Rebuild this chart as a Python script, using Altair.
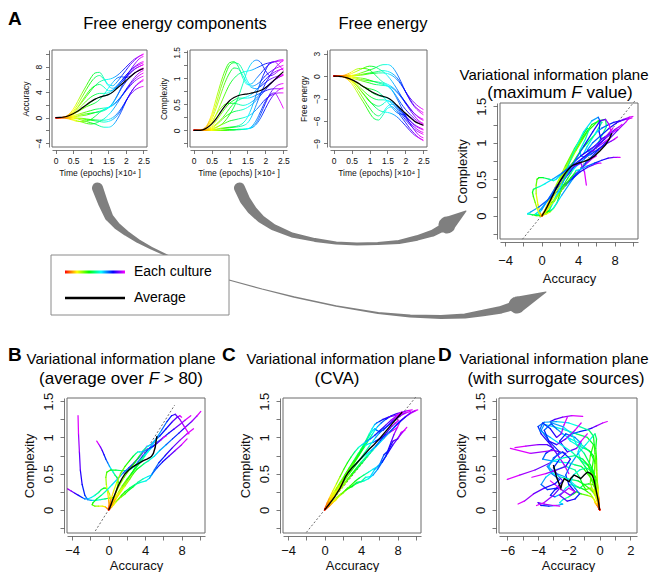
import altair as alt
import pandas as pd

FONT = "Liberation Sans"
RAINBOW = ["#ff0000", "#ffff00", "#00ff00", "#00ffff", "#0000ff", "#ff00ff"]
RAINBOW_T = [0, 0.5, 1.0, 1.5, 2.0, 2.5]
GREY = "#7f7f7f"
BOXC = "#6a6a6a"

# time grid (x 10^4 epochs)
T = [0, 0.125, 0.25, 0.375, 0.5, 0.625, 0.75, 0.875, 1.0, 1.125, 1.25,
     1.375, 1.5, 1.625, 1.75, 1.875, 2.0, 2.125, 2.25, 2.375, 2.5]

# ---------------- Panel A: accuracy / complexity of each culture ----------------
ACC = {
    "c01": [0, 0, 0.1, 0.5, 1.3, 2.5, 3.8, 5.0, 6.2, 7.0, 7.1, 6.2, 5.2, 5.0, 5.6, 6.5, 7.4, 8.3, 9.0, 9.6, 10.0],
    "c02": [0, 0, 0.1, 0.4, 1.0, 2.0, 3.2, 4.4, 5.5, 6.3, 6.6, 6.0, 5.0, 4.6, 5.0, 5.8, 6.6, 7.4, 8.0, 8.5, 8.8],
    "c03": [0, 0, 0.05, 0.3, 0.8, 1.6, 2.6, 3.6, 4.5, 5.0, 5.2, 4.8, 4.2, 4.3, 4.8, 5.5, 6.3, 7.0, 7.6, 8.0, 8.3],
    "c04": [0, 0, -0.05, -0.2, -0.4, -0.6, -0.6, -0.5, -0.3, 0.2, 0.8, 1.3, 1.6, 2.0, 2.6, 3.4, 4.3, 5.2, 6.0, 6.6, 7.0],
    "c05": [0, 0, 0, -0.05, -0.1, -0.2, -0.4, -0.6, -0.8, -1.0, -1.3, -1.5, -1.5, -1.2, -0.3, 1.0, 2.5, 3.8, 4.8, 5.5, 6.0],
    "c06": [0, 0, 0, 0, -0.05, -0.1, -0.2, -0.3, -0.4, -0.5, -0.6, -0.7, -0.6, -0.3, 0.3, 1.3, 2.6, 3.8, 4.8, 5.4, 5.8],
    "c07": [0, 0, 0.05, 0.2, 0.5, 0.9, 1.3, 1.7, 2.0, 2.3, 2.8, 3.6, 4.6, 5.5, 6.2, 6.4, 6.3, 6.5, 7.0, 7.5, 7.8],
    "c08": [0, 0, 0.05, 0.2, 0.5, 0.9, 1.4, 1.9, 2.4, 2.9, 3.2, 3.4, 3.6, 4.0, 4.7, 5.5, 6.3, 7.0, 7.6, 8.0, 8.3],
    "c09": [0, 0, 0, 0.05, 0.1, 0.2, 0.3, 0.4, 0.6, 0.8, 1.0, 1.2, 1.5, 2.2, 3.4, 4.8, 6.2, 7.4, 8.4, 9.2, 9.6],
    "c10": [0, 0, 0, 0, 0, -0.05, -0.1, -0.2, -0.3, -0.35, -0.4, -0.4, -0.3, 0, 0.6, 1.5, 2.6, 3.6, 4.3, 4.7, 4.9],
    "c11": [0, 0, 0.02, 0.1, 0.3, 0.5, 0.7, 0.9, 1.1, 1.3, 1.4, 1.5, 1.6, 1.9, 2.5, 3.3, 4.2, 5.0, 5.7, 6.2, 6.5],
    "c12": [0, 0, 0.1, 0.3, 0.8, 1.5, 2.4, 3.3, 4.2, 5.0, 5.6, 5.9, 6.0, 6.2, 6.6, 7.2, 7.9, 8.6, 9.2, 9.6, 9.9],
    "c13": [0, 0, 0, 0.05, 0.15, 0.3, 0.5, 0.6, 0.7, 0.8, 0.9, 1.1, 1.5, 2.3, 3.4, 4.6, 5.6, 6.4, 7.0, 7.4, 7.6],
    "c14": [0, 0, 0, -0.1, -0.3, -0.5, -0.7, -0.9, -1.0, -0.9, -0.6, -0.2, 0.4, 1.2, 2.2, 3.3, 4.4, 5.4, 6.3, 7.0, 7.4],
    "c15": [0, 0, 0.05, 0.2, 0.6, 1.2, 1.9, 2.6, 3.2, 3.6, 3.8, 3.8, 3.9, 4.3, 5.0, 5.8, 6.6, 7.3, 7.9, 8.3, 8.6],
}
CPX = {
    "c01": [0, 0, 0.02, 0.1, 0.3, 0.6, 0.9, 1.15, 1.3, 1.32, 1.22, 1.0, 0.88, 0.9, 1.0, 1.1, 1.2, 1.28, 1.32, 1.35, 1.36],
    "c02": [0, 0, 0.01, 0.08, 0.25, 0.5, 0.8, 1.05, 1.25, 1.3, 1.28, 1.15, 0.95, 0.85, 0.88, 0.95, 1.05, 1.12, 1.18, 1.22, 1.25],
    "c03": [0, 0, 0.01, 0.06, 0.2, 0.42, 0.68, 0.92, 1.1, 1.2, 1.18, 1.05, 0.9, 0.82, 0.8, 0.85, 0.92, 0.98, 1.02, 1.05, 1.08],
    "c04": [0, 0, 0.01, 0.05, 0.15, 0.3, 0.42, 0.5, 0.52, 0.52, 0.5, 0.48, 0.5, 0.55, 0.62, 0.72, 0.82, 0.9, 0.97, 1.02, 1.06],
    "c05": [0, 0, 0, 0, 0, 0, 0, 0, 0.01, 0.01, 0.02, 0.02, 0.03, 0.05, 0.12, 0.25, 0.42, 0.58, 0.7, 0.78, 0.82],
    "c06": [0, 0, 0, 0, 0, 0, 0, 0.01, 0.01, 0.01, 0.02, 0.02, 0.03, 0.06, 0.15, 0.32, 0.52, 0.7, 0.82, 0.88, 0.9],
    "c07": [0, 0, 0, 0.01, 0.02, 0.05, 0.1, 0.18, 0.3, 0.45, 0.65, 0.9, 1.15, 1.3, 1.35, 1.3, 1.15, 1.05, 1.08, 1.15, 1.2],
    "c08": [0, 0, 0, 0.02, 0.06, 0.12, 0.2, 0.3, 0.42, 0.52, 0.58, 0.62, 0.65, 0.7, 0.78, 0.88, 0.98, 1.06, 1.12, 1.16, 1.18],
    "c09": [0, 0, 0, 0, 0.01, 0.02, 0.03, 0.04, 0.05, 0.06, 0.07, 0.09, 0.14, 0.28, 0.5, 0.72, 0.9, 1.05, 1.18, 1.28, 1.34],
    "c10": [0, 0, 0, 0, 0, 0, 0, 0, 0.01, 0.01, 0.01, 0.02, 0.03, 0.08, 0.2, 0.38, 0.56, 0.68, 0.72, 0.6, 0.42],
    "c11": [0, 0, 0, 0.01, 0.03, 0.06, 0.1, 0.14, 0.18, 0.2, 0.22, 0.24, 0.27, 0.32, 0.4, 0.5, 0.6, 0.66, 0.7, 0.72, 0.72],
    "c12": [0, 0, 0.01, 0.05, 0.14, 0.3, 0.5, 0.7, 0.88, 1.0, 1.08, 1.12, 1.14, 1.16, 1.2, 1.24, 1.28, 1.3, 1.32, 1.33, 1.34],
    "c13": [0, 0, 0, 0, 0.01, 0.02, 0.04, 0.05, 0.06, 0.07, 0.09, 0.14, 0.25, 0.45, 0.7, 0.95, 1.15, 1.3, 1.32, 1.25, 1.15],
    "c14": [0, 0, 0, 0.01, 0.04, 0.1, 0.18, 0.26, 0.32, 0.36, 0.38, 0.4, 0.44, 0.5, 0.58, 0.68, 0.78, 0.88, 0.96, 1.02, 1.06],
    "c15": [0, 0, 0, 0.02, 0.08, 0.18, 0.3, 0.42, 0.52, 0.58, 0.62, 0.62, 0.62, 0.64, 0.68, 0.72, 0.76, 0.79, 0.8, 0.8, 0.8],
}
ACC_MEAN = [0, 0.03, 0.1, 0.3, 0.6, 1.0, 1.5, 2.0, 2.5, 2.9, 3.2, 3.4, 3.6, 4.0, 4.6, 5.2, 5.8, 6.4, 7.0, 7.4, 7.7]
CPX_MEAN = [0, 0, 0.01, 0.05, 0.12, 0.22, 0.35, 0.47, 0.57, 0.63, 0.67, 0.69, 0.7, 0.72, 0.74, 0.77, 0.82, 0.89, 0.97, 1.05, 1.13]

# ---------------- Panel B: average over F > 80 ----------------
B_ACC = {
    "b01": [0, 0.05, 0.15, 0.3, 0.5, 0.6, 0.6, 0.5, 0.3, 0, -0.4, -0.9, -1.4, -1.9, -2.3, -2.6, -2.9, -3.1, -3.2, -3.3, -3.35],
    "b02": [0, 0.05, 0.1, 0.15, 0.2, 0.1, -0.1, -0.3, -0.5, -0.8, -1.1, -1.5, -1.9, -2.3, -2.6, -2.9, -3.3, -3.7, -4.1, -4.5, -4.9],
    "b03": [0, 0.1, 0.25, 0.45, 0.7, 0.9, 1.0, 1.05, 1.0, 0.9, 0.7, 0.5, 0.3, 0.1, -0.1, -0.3, -0.5, -0.7, -0.9, -1.1, -1.3],
    "b04": [0, 0.02, 0.05, 0, -0.1, -0.25, -0.3, -0.2, 0.2, 0.8, 1.5, 2.0, 2.4, 2.8, 3.2, 3.6, 4.0, 4.4, 4.8, 5.1, 5.3],
    "b05": [0, -0.05, -0.15, -0.35, -0.7, -1.1, -1.5, -1.8, -1.7, -1.3, -0.8, -0.2, 0.4, 1.0, 1.6, 2.2, 2.8, 3.3, 3.7, 4.0, 4.2],
    "b06": [0, 0.1, 0.3, 0.6, 1.0, 1.5, 2.0, 2.5, 2.9, 3.3, 3.6, 3.9, 4.3, 4.8, 5.4, 6.0, 6.6, 7.2, 7.8, 8.4, 9.0],
    "b07": [0, 0.1, 0.25, 0.5, 0.8, 1.2, 1.7, 2.3, 2.9, 3.4, 3.8, 4.1, 4.3, 4.6, 5.0, 5.6, 6.3, 7.0, 7.5, 7.8, 8.0],
    "b08": [0, 0.1, 0.2, 0.4, 0.7, 1.0, 1.4, 1.8, 2.2, 2.7, 3.2, 3.8, 4.3, 4.7, 5.0, 5.5, 6.2, 7.0, 7.8, 8.6, 9.3],
    "b09": [0, 0.15, 0.4, 0.8, 1.3, 1.8, 2.3, 2.7, 3.1, 3.5, 3.9, 4.4, 5.0, 5.6, 6.3, 7.0, 7.7, 8.4, 9.1, 9.7, 10.1],
    "b10": [0, 0.1, 0.2, 0.4, 0.7, 1.1, 1.5, 2.0, 2.5, 3.0, 3.5, 4.0, 4.6, 5.2, 5.8, 6.4, 6.9, 7.3, 7.8, 8.3, 8.8],
    "b11": [0, 0.05, 0.15, 0.3, 0.55, 0.9, 1.3, 1.8, 2.3, 2.7, 3.0, 3.2, 3.4, 3.7, 4.1, 4.5, 4.9, 5.3, 5.7, 6.0, 6.3],
    "b12": [0, 0.1, 0.2, 0.35, 0.55, 0.8, 1.1, 1.4, 1.8, 2.3, 2.9, 3.5, 4.1, 4.5, 4.8, 5.3, 5.9, 6.6, 7.3, 8.0, 8.6],
}
B_CPX = {
    "b01": [0, 0.01, 0.03, 0.06, 0.1, 0.14, 0.16, 0.17, 0.17, 0.16, 0.15, 0.14, 0.13, 0.13, 0.14, 0.2, 0.35, 0.55, 0.8, 1.05, 1.3],
    "b02": [0, 0.02, 0.05, 0.1, 0.16, 0.22, 0.27, 0.3, 0.3, 0.28, 0.24, 0.2, 0.17, 0.15, 0.15, 0.17, 0.2, 0.23, 0.26, 0.29, 0.31],
    "b03": [0, 0.02, 0.06, 0.12, 0.2, 0.28, 0.34, 0.38, 0.42, 0.45, 0.48, 0.52, 0.56, 0.6, 0.65, 0.7, 0.76, 0.82, 0.87, 0.91, 0.95],
    "b04": [0, 0.02, 0.06, 0.14, 0.24, 0.35, 0.45, 0.52, 0.55, 0.55, 0.54, 0.54, 0.56, 0.6, 0.66, 0.72, 0.78, 0.84, 0.9, 0.95, 1.0],
    "b05": [0, 0.01, 0.02, 0.04, 0.05, 0.05, 0.05, 0.07, 0.1, 0.15, 0.2, 0.27, 0.35, 0.43, 0.51, 0.58, 0.65, 0.72, 0.78, 0.84, 0.88],
    "b06": [0, 0.02, 0.06, 0.12, 0.2, 0.3, 0.4, 0.5, 0.58, 0.64, 0.7, 0.75, 0.8, 0.87, 0.94, 1.0, 1.06, 1.12, 1.18, 1.24, 1.3],
    "b07": [0, 0.03, 0.08, 0.15, 0.24, 0.34, 0.45, 0.56, 0.66, 0.75, 0.82, 0.86, 0.88, 0.9, 0.95, 1.02, 1.12, 1.22, 1.28, 1.3, 1.28],
    "b08": [0, 0.01, 0.03, 0.06, 0.1, 0.14, 0.18, 0.22, 0.27, 0.32, 0.38, 0.43, 0.46, 0.48, 0.55, 0.65, 0.75, 0.86, 0.96, 1.05, 1.12],
    "b09": [0, 0.03, 0.08, 0.15, 0.24, 0.33, 0.42, 0.5, 0.56, 0.6, 0.64, 0.68, 0.74, 0.82, 0.9, 0.98, 1.06, 1.14, 1.22, 1.3, 1.36],
    "b10": [0, 0.02, 0.05, 0.1, 0.17, 0.25, 0.33, 0.42, 0.5, 0.58, 0.66, 0.75, 0.86, 0.98, 1.1, 1.22, 1.3, 1.32, 1.25, 1.15, 1.05],
    "b11": [0, 0.03, 0.08, 0.16, 0.26, 0.38, 0.5, 0.6, 0.68, 0.74, 0.78, 0.8, 0.8, 0.8, 0.82, 0.85, 0.88, 0.92, 0.96, 1.0, 1.02],
    "b12": [0, 0.01, 0.02, 0.04, 0.07, 0.11, 0.15, 0.2, 0.25, 0.3, 0.35, 0.38, 0.4, 0.44, 0.5, 0.58, 0.66, 0.74, 0.82, 0.9, 0.98],
}
B_ACC_MEAN = [0, 0.1, 0.25, 0.45, 0.7, 0.95, 1.2, 1.5, 1.8, 2.2, 2.6, 3.0, 3.4, 3.8, 4.2, 4.5, 4.7, 4.9, 5.1, 5.2, 5.3]
B_CPX_MEAN = [0, 0.02, 0.07, 0.14, 0.22, 0.3, 0.37, 0.44, 0.5, 0.55, 0.59, 0.62, 0.65, 0.68, 0.7, 0.72, 0.74, 0.78, 0.86, 0.95, 1.02]

# ---------------- Panel C: CVA ----------------
V_ACC = {
    "v01": [0, 0.2, 0.5, 0.9, 1.4, 2.0, 2.6, 3.2, 3.8, 4.3, 4.8, 5.2, 5.5, 5.8, 6.2, 6.7, 7.3, 7.9, 8.5, 9.1, 9.6],
    "v02": [0, 0.15, 0.4, 0.75, 1.2, 1.7, 2.3, 2.9, 3.5, 4.0, 4.5, 4.9, 5.2, 5.5, 5.7, 6.0, 6.4, 7.0, 7.6, 8.2, 8.8],
    "v03": [0, 0.2, 0.45, 0.8, 1.2, 1.6, 2.0, 2.5, 3.0, 3.5, 4.0, 4.5, 5.0, 5.5, 6.0, 6.5, 7.0, 7.5, 8.0, 8.4, 8.8],
    "v04": [0, 0.1, 0.3, 0.6, 1.0, 1.5, 2.0, 2.5, 3.0, 3.5, 4.0, 4.6, 5.2, 5.8, 6.4, 7.0, 7.6, 8.2, 8.8, 9.4, 10.0],
    "v05": [0, 0.15, 0.35, 0.6, 0.9, 1.3, 1.7, 2.2, 2.7, 3.2, 3.7, 4.2, 4.6, 5.0, 5.3, 5.6, 6.0, 6.5, 7.0, 7.5, 8.0],
    "v06": [0, 0.2, 0.5, 0.9, 1.3, 1.8, 2.3, 2.8, 3.3, 3.8, 4.3, 4.8, 5.3, 5.8, 6.3, 6.7, 7.0, 7.3, 7.6, 7.9, 8.2],
    "v07": [0, 0.2, 0.5, 0.9, 1.4, 2.0, 2.6, 3.2, 3.8, 4.3, 4.7, 5.0, 5.3, 5.5, 5.7, 6.0, 6.4, 6.9, 7.5, 8.1, 8.6],
    "v08": [0, 0.2, 0.5, 0.9, 1.4, 1.9, 2.4, 2.9, 3.5, 4.1, 4.7, 5.3, 5.9, 6.5, 7.1, 7.7, 8.3, 8.9, 9.4, 9.9, 10.2],
    "v09": [0, 0.1, 0.3, 0.6, 0.9, 1.3, 1.8, 2.3, 2.8, 3.3, 3.8, 4.3, 4.8, 5.3, 5.8, 6.3, 6.9, 7.5, 8.1, 8.6, 9.0],
    "v10": [0, 0.1, 0.3, 0.55, 0.9, 1.3, 1.7, 2.1, 2.5, 2.9, 3.3, 3.7, 4.1, 4.5, 5.0, 5.5, 6.1, 6.7, 7.3, 7.9, 8.4],
    "v11": [0, 0.15, 0.4, 0.7, 1.1, 1.6, 2.1, 2.7, 3.3, 3.9, 4.4, 4.9, 5.3, 5.6, 6.0, 6.5, 7.1, 7.7, 8.3, 8.9, 9.4],
    "v12": [0, 0.1, 0.25, 0.5, 0.8, 1.2, 1.6, 2.1, 2.6, 3.1, 3.6, 4.1, 4.6, 5.1, 5.6, 6.1, 6.6, 7.0, 7.4, 7.8, 8.1],
}
V_CPX = {
    "v01": [0, 0.04, 0.1, 0.18, 0.28, 0.4, 0.52, 0.64, 0.76, 0.86, 0.96, 1.04, 1.1, 1.15, 1.2, 1.25, 1.3, 1.33, 1.35, 1.37, 1.38],
    "v02": [0, 0.03, 0.09, 0.16, 0.25, 0.36, 0.48, 0.6, 0.72, 0.84, 0.95, 1.05, 1.12, 1.18, 1.2, 1.22, 1.25, 1.28, 1.3, 1.32, 1.34],
    "v03": [0, 0.02, 0.05, 0.1, 0.13, 0.2, 0.23, 0.3, 0.32, 0.38, 0.39, 0.45, 0.46, 0.56, 0.62, 0.76, 0.82, 0.95, 0.98, 1.07, 1.1],
    "v04": [0, 0.02, 0.06, 0.11, 0.18, 0.26, 0.34, 0.42, 0.5, 0.58, 0.66, 0.74, 0.82, 0.9, 0.98, 1.06, 1.14, 1.22, 1.28, 1.33, 1.37],
    "v05": [0, 0.04, 0.09, 0.15, 0.22, 0.3, 0.38, 0.48, 0.58, 0.68, 0.78, 0.86, 0.9, 0.92, 0.93, 0.95, 0.98, 1.02, 1.06, 1.1, 1.14],
    "v06": [0, 0.02, 0.05, 0.1, 0.15, 0.21, 0.27, 0.33, 0.39, 0.44, 0.48, 0.52, 0.56, 0.6, 0.66, 0.74, 0.84, 0.94, 1.04, 1.12, 1.2],
    "v07": [0, 0.05, 0.12, 0.2, 0.3, 0.42, 0.54, 0.66, 0.78, 0.88, 0.98, 1.05, 1.1, 1.12, 1.1, 1.08, 1.1, 1.16, 1.24, 1.3, 1.34],
    "v08": [0, 0.03, 0.08, 0.15, 0.23, 0.31, 0.39, 0.47, 0.56, 0.65, 0.74, 0.83, 0.91, 0.99, 1.07, 1.15, 1.22, 1.29, 1.34, 1.37, 1.38],
    "v09": [0, 0.01, 0.04, 0.08, 0.12, 0.17, 0.22, 0.27, 0.31, 0.35, 0.38, 0.4, 0.43, 0.48, 0.56, 0.66, 0.78, 0.9, 1.0, 1.08, 1.14],
    "v10": [0, 0.04, 0.1, 0.17, 0.26, 0.36, 0.46, 0.56, 0.65, 0.73, 0.8, 0.86, 0.9, 0.94, 0.98, 1.03, 1.1, 1.17, 1.24, 1.3, 1.35],
    "v11": [0, 0.03, 0.08, 0.14, 0.21, 0.3, 0.39, 0.5, 0.6, 0.7, 0.79, 0.88, 0.95, 1.0, 1.06, 1.12, 1.18, 1.24, 1.3, 1.34, 1.36],
    "v12": [0, 0.02, 0.06, 0.12, 0.19, 0.27, 0.35, 0.44, 0.52, 0.6, 0.66, 0.72, 0.77, 0.82, 0.88, 0.96, 1.04, 1.1, 1.16, 1.2, 1.24],
}
V_ACC_MEAN = [0, 0.2, 0.45, 0.75, 1.05, 1.35, 1.7, 2.0, 2.3, 2.6, 3.0, 3.4, 3.9, 4.4, 4.9, 5.4, 6.0, 6.6, 7.2, 7.8, 8.5]
V_CPX_MEAN = [0, 0.03, 0.07, 0.12, 0.17, 0.23, 0.3, 0.38, 0.46, 0.52, 0.58, 0.63, 0.7, 0.77, 0.84, 0.9, 0.98, 1.07, 1.16, 1.25, 1.35]

# ---------------- Panel D: surrogate sources ----------------
D_ACC = {
    "d01": [0, -0.1, -0.15, -0.2, -0.3, -0.5, -0.7, -0.6, -0.4, -0.8, -1.5, -2.2, -3.0, -3.6, -3.8, -3.3, -2.6, -3.2, -4.2, -5.2, -6.0],
    "d02": [0, -0.05, -0.1, -0.2, -0.15, -0.3, -0.5, -0.8, -1.0, -1.2, -1.6, -2.0, -2.6, -3.2, -3.7, -3.5, -3.0, -3.4, -4.0, -4.8, -5.5],
    "d03": [0, -0.05, -0.1, -0.05, -0.1, -0.2, -0.3, -0.5, -0.4, -0.6, -0.9, -1.3, -1.9, -2.4, -2.8, -3.1, -3.2, -2.9, -2.4, -1.8, -1.1],
    "d04": [0, -0.05, -0.1, -0.15, -0.2, -0.3, -0.35, -0.3, -0.4, -0.7, -1.1, -1.5, -1.9, -2.1, -1.8, -1.3, -0.9, -0.5, -0.2, 0.2, 0.5],
    "d05": [0, -0.1, -0.2, -0.3, -0.35, -0.5, -0.8, -1.2, -1.5, -1.7, -2.0, -2.4, -2.6, -2.4, -2.8, -3.3, -3.8, -4.0, -3.6, -3.0, -2.6],
    "d06": [0, -0.02, -0.05, -0.1, -0.15, -0.2, -0.25, -0.3, -0.35, -0.4, -0.7, -1.3, -2.0, -2.8, -3.6, -4.0, -3.8, -3.2, -2.7, -2.3, -2.0],
    "d07": [0, -0.05, -0.1, -0.2, -0.3, -0.35, -0.3, -0.45, -0.7, -1.0, -1.3, -1.6, -1.9, -2.3, -2.8, -3.0, -2.6, -2.2, -3.0, -4.5, -5.8],
    "d08": [0, -0.05, -0.1, -0.15, -0.25, -0.4, -0.6, -0.9, -1.1, -1.3, -1.6, -2.2, -2.9, -3.5, -3.8, -3.4, -2.8, -2.4, -2.9, -3.4, -3.0],
    "d09": [0, -0.02, -0.05, -0.1, -0.12, -0.15, -0.2, -0.25, -0.3, -0.45, -0.8, -1.2, -1.4, -1.2, -1.6, -2.2, -2.6, -2.1, -1.5, -1.2, -0.8],
    "d10": [0, -0.05, -0.1, -0.2, -0.3, -0.45, -0.6, -0.8, -1.0, -1.2, -1.5, -1.9, -2.2, -2.5, -2.9, -3.2, -2.9, -2.5, -3.0, -3.6, -4.1],
    "d11": [0, -0.02, -0.05, -0.08, -0.1, -0.15, -0.18, -0.2, -0.25, -0.2, -0.3, -0.5, -0.9, -1.4, -1.9, -2.2, -2.0, -1.6, -1.9, -2.5, -3.2],
    "d12": [0, -0.03, -0.08, -0.12, -0.18, -0.25, -0.35, -0.5, -0.7, -0.95, -1.3, -1.8, -2.5, -3.2, -3.9, -3.7, -3.2, -2.8, -2.5, -2.3, -2.1],
    "d13": [0, -0.04, -0.1, -0.2, -0.35, -0.5, -0.6, -0.55, -0.75, -1.1, -1.6, -2.3, -3.0, -3.4, -3.1, -2.6, -2.9, -3.6, -4.3, -4.9, -5.3],
    "d14": [0, -0.03, -0.06, -0.1, -0.15, -0.22, -0.3, -0.4, -0.35, -0.6, -1.0, -1.5, -1.8, -2.4, -3.1, -3.6, -3.3, -2.8, -2.2, -1.6, -1.2],
    "d15": [0, -0.05, -0.1, -0.12, -0.2, -0.3, -0.45, -0.7, -1.0, -1.4, -1.9, -2.5, -3.0, -3.3, -3.0, -2.4, -1.9, -2.2, -2.8, -3.5, -4.4],
    "d16": [0, -0.02, -0.04, -0.06, -0.08, -0.1, -0.15, -0.25, -0.4, -0.6, -0.9, -1.3, -1.7, -1.9, -1.6, -1.3, -1.6, -2.1, -2.6, -2.0, -1.6],
}
D_CPX = {
    "d01": [0, 0.1, 0.2, 0.3, 0.4, 0.5, 0.6, 0.75, 0.9, 1.0, 1.05, 1.1, 1.15, 1.18, 1.1, 0.95, 0.8, 0.65, 0.55, 0.48, 0.42],
    "d02": [0, 0.05, 0.12, 0.2, 0.28, 0.35, 0.42, 0.5, 0.56, 0.6, 0.62, 0.65, 0.66, 0.68, 0.7, 0.78, 0.85, 0.9, 0.9, 0.88, 0.86],
    "d03": [0, 0.05, 0.1, 0.16, 0.22, 0.3, 0.4, 0.55, 0.7, 0.8, 0.85, 0.92, 0.98, 1.05, 1.12, 1.18, 1.22, 1.25, 1.28, 1.3, 1.29],
    "d04": [0, 0.05, 0.12, 0.2, 0.3, 0.4, 0.52, 0.64, 0.75, 0.82, 0.86, 0.9, 0.95, 1.0, 1.05, 1.08, 1.1, 1.13, 1.16, 1.2, 1.22],
    "d05": [0, 0.04, 0.07, 0.1, 0.14, 0.18, 0.2, 0.22, 0.25, 0.22, 0.18, 0.14, 0.1, 0.08, 0.06, 0.05, 0.06, 0.1, 0.08, 0.06, 0.05],
    "d06": [0, 0.06, 0.14, 0.24, 0.36, 0.5, 0.64, 0.78, 0.9, 1.02, 1.1, 1.15, 1.2, 1.22, 1.21, 1.15, 1.05, 0.9, 0.75, 0.62, 0.5],
    "d07": [0, 0.04, 0.09, 0.15, 0.22, 0.28, 0.32, 0.35, 0.36, 0.35, 0.3, 0.34, 0.4, 0.46, 0.5, 0.58, 0.7, 0.78, 0.82, 0.78, 0.85],
    "d08": [0, 0.04, 0.1, 0.16, 0.2, 0.26, 0.3, 0.28, 0.35, 0.45, 0.55, 0.6, 0.55, 0.45, 0.35, 0.28, 0.3, 0.4, 0.52, 0.6, 0.68],
    "d09": [0, 0.03, 0.06, 0.1, 0.14, 0.2, 0.28, 0.36, 0.45, 0.55, 0.62, 0.68, 0.8, 0.92, 1.0, 1.05, 0.95, 0.8, 0.85, 0.95, 1.05],
    "d10": [0, 0.02, 0.05, 0.08, 0.12, 0.17, 0.22, 0.25, 0.28, 0.3, 0.32, 0.35, 0.3, 0.22, 0.18, 0.2, 0.28, 0.32, 0.2, 0.1, 0.06],
    "d11": [0, 0.05, 0.1, 0.18, 0.28, 0.4, 0.55, 0.7, 0.85, 0.98, 1.05, 1.0, 0.9, 0.78, 0.62, 0.48, 0.35, 0.25, 0.2, 0.28, 0.4],
    "d12": [0, 0.03, 0.07, 0.12, 0.18, 0.25, 0.32, 0.4, 0.5, 0.6, 0.7, 0.8, 0.9, 1.0, 1.1, 1.2, 1.12, 1.0, 1.05, 1.18, 1.28],
    "d13": [0, 0.04, 0.1, 0.18, 0.25, 0.3, 0.38, 0.5, 0.62, 0.7, 0.75, 0.72, 0.68, 0.6, 0.5, 0.42, 0.36, 0.3, 0.22, 0.12, 0.08],
    "d14": [0, 0.02, 0.05, 0.09, 0.15, 0.22, 0.3, 0.38, 0.5, 0.62, 0.78, 0.9, 1.05, 1.15, 1.2, 1.1, 0.95, 0.9, 0.98, 1.1, 1.2],
    "d15": [0, 0.03, 0.06, 0.1, 0.14, 0.2, 0.25, 0.3, 0.35, 0.4, 0.42, 0.45, 0.5, 0.6, 0.72, 0.8, 0.7, 0.6, 0.55, 0.5, 0.45],
    "d16": [0, 0.04, 0.09, 0.15, 0.22, 0.3, 0.38, 0.45, 0.5, 0.55, 0.58, 0.55, 0.48, 0.38, 0.3, 0.22, 0.15, 0.12, 0.2, 0.3, 0.25],
}
D_ACC_MEAN = [0, -0.05, -0.12, -0.2, -0.26, -0.35, -0.48, -0.65, -0.8, -1.0, -1.23, -1.45, -1.66, -1.85, -1.98, -2.15, -2.3, -2.45, -2.52, -2.8, -3.0]
D_CPX_MEAN = [0, 0.08, 0.16, 0.24, 0.3, 0.4, 0.48, 0.51, 0.52, 0.48, 0.43, 0.46, 0.48, 0.44, 0.39, 0.41, 0.43, 0.36, 0.3, 0.45, 0.62]

# dashed reference lines (slope, accuracy range)
DIAG_A = (0.154, -2.1, 10.2)
DIAG_B = (0.2, -1.46, 7.24)
DIAG_C = (0.156, -2.0, 10.0)

# ---------------- decorations (page pixel coords) ----------------
ORIG = {"S1": (52, 50), "S3": (330, 50), "BIG": (500, 103), "PB": (67, 398), "PC": (283, 398), "PD": (499, 398)}
ARROW1 = [(97.5, 188, 11), (103, 203, 10), (109, 217, 8.5), (117, 226, 7), (126, 233, 5.5), (138, 241, 4),
          (151, 248, 3), (168, 256, 2), (200, 268, 1.5), (229, 280, 1.2), (262, 289, 1.2), (294, 297, 1.3),
          (336, 306, 1.6), (378, 313, 2.2), (410, 316, 3), (441, 317, 4), (465, 316, 5), (483, 313, 6.5),
          (500, 310, 7.5), (513, 306, 8.5), (517, 305, 17), (546, 292, 0)]
ARROW2 = [(239.5, 188, 11), (245, 200, 10.5), (252, 210, 9.5), (261, 219, 8), (273, 227, 6.5), (292, 235, 5),
          (315, 240, 3.8), (336, 243, 3), (357, 244, 2.8), (378, 243.5, 3.2), (399, 242, 4), (417, 238, 5.5),
          (433, 233, 7), (444, 227, 8), (447, 225, 17), (466, 211, 0)]
LEGEND_BOX = (51, 255, 229, 315)
LEGEND_ROWS = [("Each culture", 272), ("Average", 298)]

# ---------------- helpers ----------------
ONE = pd.DataFrame({"z": [0]})
W = {"(": .333, ")": .333, " ": .278, "a": .556, "e": .556, "g": .556, "m": .833, "o": .556, "r": .333,
     "u": .556, "v": .5, "x": .5, "i": .222, "l": .222, ">": .584, "8": .556, "0": .556, "F": .611}


def tw(s, size):
    return sum(W.get(ch, .556) for ch in s) * size


def txt(s, x, y, size, align="center", weight="normal", style="normal", font=FONT, baseline="alphabetic"):
    return alt.Chart(ONE).mark_text(text=s, align=align, baseline=baseline, fontSize=size, fontWeight=weight,
                                    fontStyle=style, font=font, color="black").encode(
        x=alt.value(x), y=alt.value(y))


def ptxt(key, s, px, py, size, **kw):
    ox, oy = ORIG[key]
    return txt(s, px - ox, py - oy, size, **kw)


def italic_line(key, before, after, cx, base, size):
    ox, oy = ORIG[key]
    sp, f = tw(" ", size), tw("F", size)
    total = tw(before, size) + sp + f + sp + tw(after, size)
    x0 = cx - total / 2
    xf = x0 + tw(before, size) + sp
    return [txt(before, x0 - ox, base - oy, size, align="left"),
            txt("F", xf - ox, base - oy, size, align="left", style="italic"),
            txt(after, xf + f + sp - ox, base - oy, size, align="left")]


def box():
    return alt.Chart(ONE).mark_rect(filled=False, stroke=BOXC, strokeWidth=1).encode(
        x=alt.value(0), x2=alt.value("width"), y=alt.value(0), y2=alt.value("height"))


def axis(title, values, every=None, lab=13, tit=13, y=False, offset=3, tick=5, lpad=3, tpad=4):
    kw = dict(title=title, values=values, format="~g", grid=False, offset=offset, tickSize=tick,
              labelFont=FONT, titleFont=FONT, labelFontSize=lab, titleFontSize=tit, titleFontWeight="normal",
              labelColor="#111", titleColor="#111", domainColor="#555", tickColor="#555",
              domainWidth=0.8, tickWidth=0.8, labelPadding=lpad, titlePadding=tpad,
              labelOverlap=False, labelFlush=False, labelBound=False)
    if every:
        kw["labelExpr"] = f"abs(datum.value/{every} - round(datum.value/{every})) < 0.000001 ? datum.label : ''"
    if y:
        kw.update(labelAngle=-90, labelAlign="center", labelBaseline="bottom")
    return alt.Axis(**kw)


def long_frame(acc, cpx):
    rows = []
    for cid in acc:
        for k, t in enumerate(T):
            rows.append(dict(culture=cid, k=k, t=t, A=acc[cid][k], C=cpx[cid][k]))
    return pd.DataFrame(rows)


def seg_frame(acc, cpx):
    rows = []
    for cid in acc:
        a, c = acc[cid], cpx[cid]
        for k in range(len(T) - 1):
            rows.append(dict(culture=cid, k=k, A=a[k], C=c[k], A2=a[k + 1], C2=c[k + 1], tm=(T[k] + T[k + 1]) / 2))
    return pd.DataFrame(rows)


def mean_frame(a, c):
    return pd.DataFrame(dict(k=list(range(len(T))), t=T, A=a, C=c))


def diag_frame(d):
    s, a0, a1 = d
    return pd.DataFrame(dict(A=[a0, a1], C=[s * a0, s * a1]))


COLOR_SCALE = alt.Scale(domain=RAINBOW_T, range=RAINBOW, interpolate="rgb")
GRAD = alt.LinearGradient(gradient="linear", x1=0, x2=1, y1=0, y2=0,
                          stops=[alt.GradientStop(color=c, offset=o / 2.5) for c, o in zip(RAINBOW, RAINBOW_T)])

DF_A = long_frame(ACC, CPX)
DF_A_MEAN = mean_frame(ACC_MEAN, CPX_MEAN)

CPX_TICKS = [-0.25, 0, 0.25, 0.5, 0.75, 1, 1.25, 1.5]
CPX_DOM = [-0.32, 1.545]


def time_panel(field, ydom, yvals, yevery, ytitle, w, extra=()):
    xs = alt.Scale(domain=[-0.1, 2.6], nice=False, zero=False)
    ys = alt.Scale(domain=ydom, nice=False, zero=False)
    xa = axis("Time (epochs) [×10⁴ ]", [0, 0.5, 1, 1.5, 2, 2.5], None, lab=8.5, tit=8.5, offset=3, tick=3.5, lpad=3, tpad=3)
    ya = axis(ytitle, yvals, yevery, lab=8.5, tit=8.5, y=True, offset=3, tick=3.5, lpad=2, tpad=4)
    lines = alt.Chart(DF_A).transform_calculate(F="datum.C - datum.A").mark_line(
        stroke=GRAD, strokeWidth=0.9, interpolate="monotone").encode(
        x=alt.X("t:Q", scale=xs, axis=xa), y=alt.Y(f"{field}:Q", scale=ys, axis=ya), detail="culture:N")
    avg = alt.Chart(DF_A_MEAN).transform_calculate(F="datum.C - datum.A").mark_line(
        color="black", strokeWidth=1.2, interpolate="monotone").encode(
        x=alt.X("t:Q", scale=xs, axis=xa), y=alt.Y(f"{field}:Q", scale=ys, axis=ya))
    return alt.layer(lines, avg, box(), *extra).properties(width=w, height=97)


def plane_panel(acc, cpx, am, cm, xdom, xvals, xevery, diag, w, h, lpad, tpad, extra=()):
    xs = alt.Scale(domain=xdom, nice=False, zero=False)
    ys = alt.Scale(domain=CPX_DOM, nice=False, zero=False)
    xa = axis("Accuracy", xvals, xevery, lab=13, tit=13, offset=3, tick=4, lpad=lpad, tpad=tpad)
    ya = axis("Complexity", CPX_TICKS, 0.5, lab=13, tit=13, y=True, offset=3, tick=4, lpad=5, tpad=6)
    layers = []
    if diag is not None:
        layers.append(alt.Chart(diag_frame(diag)).mark_line(strokeDash=[2, 2], color="#444", strokeWidth=0.8).encode(
            x=alt.X("A:Q", scale=xs, axis=xa), y=alt.Y("C:Q", scale=ys, axis=ya)))
    layers.append(alt.Chart(seg_frame(acc, cpx)).mark_rule(strokeWidth=1.25, strokeCap="round", clip=True).encode(
        x=alt.X("A:Q", scale=xs, axis=xa), y=alt.Y("C:Q", scale=ys, axis=ya), x2="A2:Q", y2="C2:Q",
        color=alt.Color("tm:Q", scale=COLOR_SCALE, legend=None)))
    layers.append(alt.Chart(mean_frame(am, cm)).mark_line(color="black", strokeWidth=1.4, clip=True).encode(
        x=alt.X("A:Q", scale=xs, axis=xa), y=alt.Y("C:Q", scale=ys, axis=ya), order="k:Q"))
    return alt.layer(*layers, box(), *extra).properties(width=w, height=h)


# ---------------- decorations layered into the first small panel ----------------
ox, oy = ORIG["S1"]
arrow_rows = []
for name, path in (("a1", ARROW1), ("a2", ARROW2)):
    for i, (x, y, wd) in enumerate(path):
        arrow_rows.append(dict(arrow=name, i=i, x=x - ox, y=y - oy, w=wd))
arrows = alt.Chart(pd.DataFrame(arrow_rows)).mark_trail(color=GREY).encode(
    x=alt.X("x:Q", scale=None), y=alt.Y("y:Q", scale=None),
    size=alt.Size("w:Q", scale=None, legend=None), detail="arrow:N", order="i:Q")
lx1, ly1, lx2, ly2 = LEGEND_BOX
legend_box = alt.Chart(ONE).mark_rect(fill="white", stroke="#8a8a8a", strokeWidth=1).encode(
    x=alt.value(lx1 - ox), x2=alt.value(lx2 - ox), y=alt.value(ly1 - oy), y2=alt.value(ly2 - oy))
legend_rainbow = alt.Chart(ONE).mark_rect(fill=GRAD).encode(
    x=alt.value(65 - ox), x2=alt.value(125 - ox), y=alt.value(LEGEND_ROWS[0][1] - 1.5 - oy),
    y2=alt.value(LEGEND_ROWS[0][1] + 1.5 - oy))
legend_black = alt.Chart(ONE).mark_rect(fill="black").encode(
    x=alt.value(65 - ox), x2=alt.value(125 - ox), y=alt.value(LEGEND_ROWS[1][1] - 1.2 - oy),
    y2=alt.value(LEGEND_ROWS[1][1] + 1.2 - oy))
legend_txt = [ptxt("S1", lab, 134, yy, 14, align="left", baseline="middle") for lab, yy in LEGEND_ROWS]

S1 = time_panel("A", [-4.6, 10.6], [-4, -2, 0, 2, 4, 6, 8, 10], 4, "Accuracy", 95,
                extra=[arrows, legend_box, legend_rainbow, legend_black, *legend_txt,
                       ptxt("S1", "A", 8, 25, 19, align="left", weight="bold"),
                       ptxt("S1", "Free energy components", 175, 29, 16.5)])
S2 = time_panel("C", CPX_DOM, CPX_TICKS, 0.5, "Complexity", 97)
S3 = time_panel("F", [-9.48, 3.48], [-9, -6, -3, 0, 3], None, "Free energy", 97,
                extra=[ptxt("S3", "Free energy", 383, 29, 16.5)])

BIG = plane_panel(ACC, CPX, ACC_MEAN, CPX_MEAN, [-4.56, 10.56], [-4, -2, 0, 2, 4, 6, 8, 10], 4, DIAG_A, 138, 136, 8, 5,
                  extra=[ptxt("BIG", "Variational information plane", 554, 80, 15),
                         *italic_line("BIG", "(maximum", "value)", 560, 98, 17)])
PB = plane_panel(B_ACC, B_CPX, B_ACC_MEAN, B_CPX_MEAN, [-4.56, 10.56], [-4, -2, 0, 2, 4, 6, 8, 10], 4, DIAG_B, 138, 135, 4, 2,
                 extra=[ptxt("PB", "B", 8, 361, 19, align="left", weight="bold"),
                        ptxt("PB", "Variational information plane", 121, 364, 15),
                        *italic_line("PB", "(average over", "> 80)", 121, 384, 17)])
PC = plane_panel(V_ACC, V_CPX, V_ACC_MEAN, V_CPX_MEAN, [-4.56, 10.56], [-4, -2, 0, 2, 4, 6, 8, 10], 4, DIAG_C, 138, 135, 4, 2,
                 extra=[ptxt("PC", "C", 222, 361, 19, align="left", weight="bold"),
                        ptxt("PC", "Variational information plane", 341, 364, 15),
                        ptxt("PC", "(CVA)", 337, 384, 17)])
PD = plane_panel(D_ACC, D_CPX, D_ACC_MEAN, D_CPX_MEAN, [-6.54, 2.43], [-6, -5, -4, -3, -2, -1, 0, 1, 2], 2, None, 138, 135, 4, 2,
                 extra=[ptxt("PD", "D", 438, 361, 19, align="left", weight="bold"),
                        ptxt("PD", "Variational information plane", 554, 364, 15),
                        ptxt("PD", "(with surrogate sources)", 556, 384, 16.5)])


def spacer(w, h):
    # an empty, invisible view used only to offset panels in the layout
    return alt.Chart(ONE).mark_text(text="", opacity=0).encode(
        x=alt.value(0), y=alt.value(0)).properties(width=w, height=h)


# With bounds="flush", a nested concat counts as zero size, so spacings below
# are the full distances between the panel origins.
row_small = alt.hconcat(S1, S2, S3, spacing=43, bounds="flush")
big_col = alt.vconcat(spacer(138, 1), BIG, spacing=52, bounds="flush")
top = alt.hconcat(row_small, big_col, spacing=448, bounds="flush")
bottom = alt.hconcat(spacer(1, 1), alt.hconcat(PB, PC, PD, spacing=78, bounds="flush"), spacing=14, bounds="flush")

chart = alt.vconcat(top, bottom, spacing=348, bounds="flush").properties(
    padding={"top": 2, "left": 0, "right": 0, "bottom": 0}, background="white"
).configure(font=FONT).configure_view(stroke="transparent", strokeWidth=0)

chart.save("out.html", embed_options={"renderer": "svg", "actions": False})
